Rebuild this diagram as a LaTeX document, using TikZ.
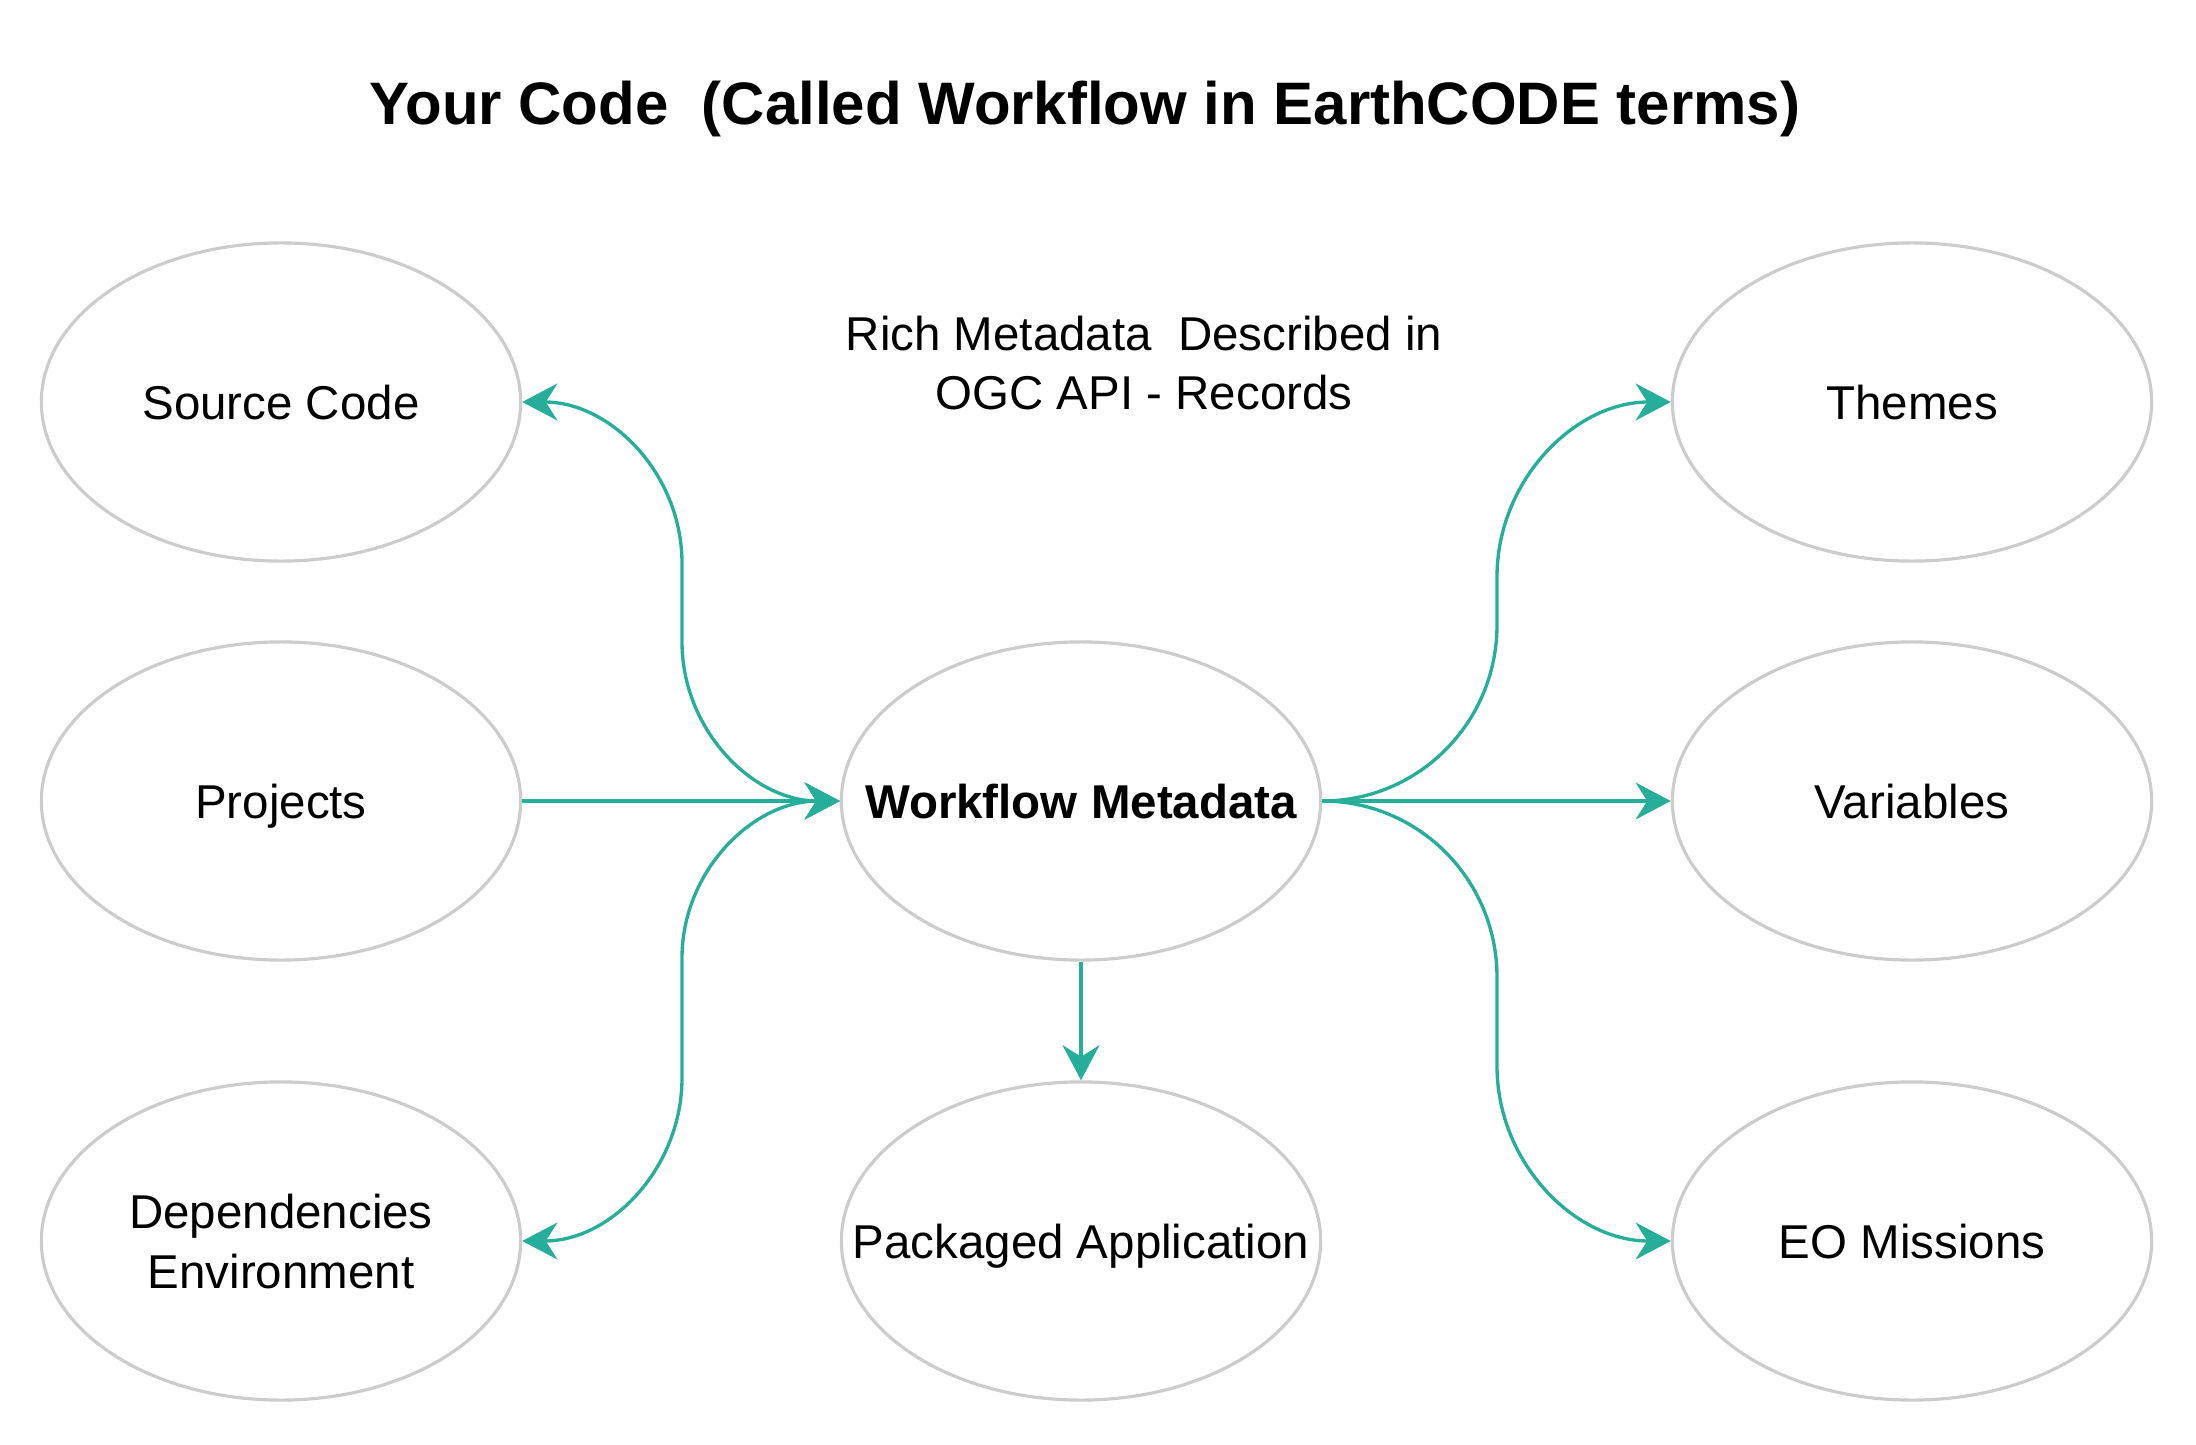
\documentclass[tikz,border=0pt]{standalone}
\usepackage{fontspec}
\setmainfont{Liberation Sans}
\usetikzlibrary{arrows.meta, shapes.geometric}
\definecolor{linkteal}{HTML}{26AE9A}
\definecolor{ovalgray}{HTML}{CCCCCC}

\begin{document}
\begin{tikzpicture}[x=0.01cm, y=0.01cm, >={Stealth[length=10pt, width=10.5pt, inset=3.3pt]}, oval node/.style={ellipse, draw=ovalgray, line width=0.9pt, minimum width=4.79cm, minimum height=3.18cm, inner sep=0pt, text depth=0pt, align=center, font=\fontsize{13.5}{17}\selectfont}, text node/.style={align=center, font=\fontsize{13.5}{17}\selectfont}, link/.style={draw=linkteal, line width=0.95pt}] %pixel units, y measured from the bottom
\useasboundingbox (0,0) rectangle (2196,1444);
\node[font=\fontsize{17.05}{20}\selectfont\bfseries](title) at (1085,1335){Your Code\ \ (Called Workflow in EarthCODE terms)};
\node[text node](rich) at (1144,1081){Rich Metadata\ \ Described in\\OGC API - Records};
\node[oval node](src) at (281,1042){Source Code};
\node[oval node](proj) at (281,643){Projects};
\node[oval node](dep) at (281,203){Dependencies\\Environment};
\node[oval node](wf) at (1081,643){\makebox[0pt]{\bfseries Workflow Metadata}};
\node[oval node](pkg) at (1081,203){\makebox[0pt]{Packaged Application}};
\node[oval node](theme) at (1912,1042){Themes};
\node[oval node](var) at (1912,643){Variables};
\node[oval node](eo) at (1912,203){EO Missions};
% inputs on the left
\draw[link, <->] (src.east) to[out=0, in=90] (682,881) -- (682,802) to[out=-90, in=180] (wf.west);
\draw[link, ->] (proj.east) -- (wf.west);
\draw[link, <->] (dep.east) to[out=0, in=-90] (682,366) -- (682,486) to[out=90, in=180] (wf.west);
% outputs
\draw[link, ->] (wf.south) -- (pkg.north);
\draw[link, ->] (wf.east) to[out=0, in=-90] (1497,819) -- (1497,867) to[out=90, in=180] (theme.west);
\draw[link, ->] (wf.east) -- (var.west);
\draw[link, ->] (wf.east) to[out=0, in=90] (1497,467) -- (1497,378) to[out=-90, in=180] (eo.west);
\end{tikzpicture}
\end{document}
